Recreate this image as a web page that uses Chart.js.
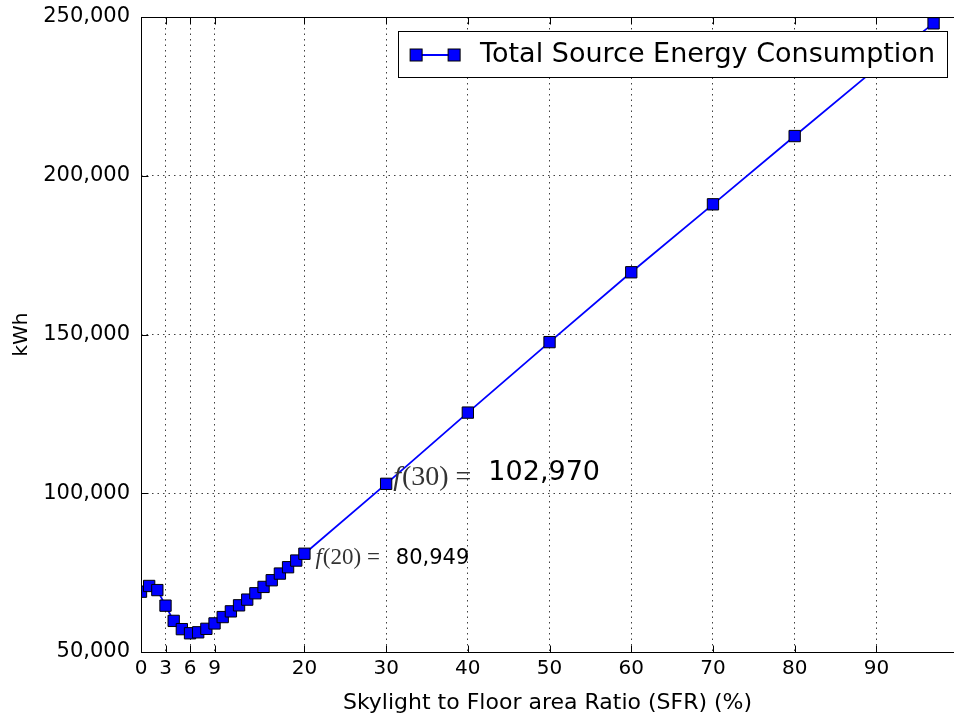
<!DOCTYPE html>
<html>
<head>
<meta charset="utf-8">
<title>Total Source Energy Consumption vs SFR</title>
<script src="https://cdn.jsdelivr.net/npm/chart.js@4.4.0/dist/chart.umd.min.js"></script>
<style>
  html, body { margin: 0; padding: 0; background: #fff; }
  #wrap { width: 954px; height: 719px; }
</style>
</head>
<body>
<div id="wrap"><canvas id="energyChart" width="954" height="719"></canvas></div>
<script>
// skylight to floor area ratio (%) and annual source energy (kWh)
var sfr = [0, 1, 2, 3, 4, 5, 6, 7, 8, 9, 10, 11, 12, 13, 14, 15, 16, 17, 18, 19, 20,
           30, 40, 50, 60, 70, 80, 90, 97];
var energy = [69000, 70800, 69500, 64600, 59800, 57200, 55900, 56200, 57300, 59000, 61000,
              62800, 64700, 66500, 68500, 70500, 72600, 74700, 76700, 78800, 80949,
              102970, 125400, 147600, 169600, 191000, 212500, 233900, 248000];
var xTickValues = [0, 3, 6, 9, 20, 30, 40, 50, 60, 70, 80, 90];
var yTickValues = [50000, 100000, 150000, 200000, 250000];
var seriesLabel = 'Total Source Energy Consumption';
var notedPoints = [20, 30]; // points that get an "f(x) = value" note

function withCommas(v) {
  return String(Math.round(v)).replace(/\B(?=(\d{3})+(?!\d))/g, ',');
}

var points = sfr.map(function (x, i) { return { x: x, y: energy[i] }; });

// keep the plot box exactly where the layout padding puts it
function noEdgePadding(s) {
  s.paddingLeft = 0; s.paddingRight = 0; s.paddingTop = 0; s.paddingBottom = 0;
}

//===========================================
//  frame: left/top/bottom spines + inward ticks
//  (the right spine falls just off the canvas)
//===========================================
var axesFrame = {
  id: 'axesFrame',
  afterDatasetsDraw: function (chart) {
    var a = chart.chartArea, c = chart.ctx;
    var xs = chart.scales.x, ys = chart.scales.y;
    var L = Math.round(a.left) + 0.5, T = Math.round(a.top) + 0.5, B = Math.round(a.bottom) + 0.5;
    c.save();
    c.strokeStyle = '#000';
    c.lineWidth = 1;
    c.setLineDash([]);
    c.beginPath();
    xTickValues.forEach(function (v) {
      var px = Math.round(xs.getPixelForValue(v)) + 0.5;
      c.moveTo(px, B); c.lineTo(px, B - 7);
      c.moveTo(px, T); c.lineTo(px, T + 7);
    });
    yTickValues.forEach(function (v) {
      var py = Math.round(ys.getPixelForValue(v)) + 0.5;
      c.moveTo(L, py); c.lineTo(L + 7, py);
    });
    c.moveTo(a.right + 10, T); c.lineTo(L, T); c.lineTo(L, B); c.lineTo(a.right + 10, B);
    c.stroke();
    c.restore();
  }
};

//===========================================
//  f(x) = value notes next to two points
//===========================================
var noteStyle = {
  20: { serif: 23, sans: 21, dx: 11, dySerif: 4, dySans: 5, gap: 16 },
  30: { serif: 28, sans: 27, dx: 7, dySerif: -6, dySans: -11, gap: 17 }
};
var notes = {
  id: 'notes',
  afterDatasetsDraw: function (chart) {
    var c = chart.ctx, xs = chart.scales.x, ys = chart.scales.y;
    notedPoints.forEach(function (x) {
      var y = energy[sfr.indexOf(x)];
      var st = noteStyle[x];
      var px = xs.getPixelForValue(x) + st.dx;
      var py = ys.getPixelForValue(y);
      c.save();
      c.textBaseline = 'middle';
      c.textAlign = 'left';
      c.fillStyle = '#333';
      c.font = 'italic ' + st.serif + 'px "Liberation Serif"';
      c.fillText('f', px, py + st.dySerif);
      px += c.measureText('f').width + 1;
      c.font = st.serif + 'px "Liberation Serif"';
      var s = '(' + x + ') =';
      c.fillText(s, px, py + st.dySerif);
      px += c.measureText(s).width + st.gap;
      c.fillStyle = '#000';
      c.font = st.sans + 'px "DejaVu Sans"';
      c.fillText(withCommas(y), px, py + st.dySans);
      c.restore();
    });
  }
};

//===========================================
//  legend box, upper right inside the axes
//===========================================
var legendBox = {
  id: 'legendBox',
  afterDraw: function (chart) {
    var c = chart.ctx, a = chart.chartArea, ds = chart.data.datasets[0];
    c.save();
    c.font = '27px "DejaVu Sans"';
    var tw = c.measureText(ds.label).width;
    var right = 947, top = a.top + 14, h = 46;
    var left = right - (82 + tw + 12);
    var midY = top + 24;
    c.fillStyle = '#fff';
    c.fillRect(left, top, right - left, h);
    c.strokeStyle = '#000';
    c.lineWidth = 1;
    c.strokeRect(Math.round(left) + 0.5, Math.round(top) + 0.5, Math.round(right - left), h);
    // sample line with a marker at each end
    c.strokeStyle = ds.borderColor;
    c.lineWidth = ds.borderWidth;
    c.beginPath();
    c.moveTo(left + 18, midY); c.lineTo(left + 56, midY);
    c.stroke();
    [18, 56].forEach(function (off) {
      c.fillStyle = ds.pointBackgroundColor;
      c.fillRect(left + off - 6, midY - 6, 12, 12);
      c.strokeStyle = ds.pointBorderColor;
      c.lineWidth = 1;
      c.strokeRect(left + off - 6, midY - 6, 12, 12);
    });
    c.fillStyle = '#000';
    c.textBaseline = 'middle';
    c.fillText(ds.label, left + 82, midY);
    c.restore();
  }
};

var ctx = document.getElementById('energyChart').getContext('2d');
var chart = new Chart(ctx, {
  type: 'line',
  data: {
    datasets: [{
      label: seriesLabel,
      data: points,
      borderColor: '#0000ff',
      backgroundColor: '#0000ff',
      borderWidth: 1.8,
      pointStyle: 'rect',
      pointRadius: 8,
      pointHoverRadius: 8,
      pointBackgroundColor: '#0000ff',
      pointBorderColor: '#000000',
      pointBorderWidth: 1,
      tension: 0,
      fill: false
    }]
  },
  options: {
    responsive: false,
    animation: false,
    events: [],
    layout: { autoPadding: false, padding: { left: 0, top: 17, right: 0, bottom: 0 } },
    plugins: {
      legend: { display: false },
      tooltip: { enabled: false }
    },
    scales: {
      x: {
        type: 'linear',
        min: 0,
        max: 99.5,
        afterBuildTicks: function (s) { s.ticks = xTickValues.map(function (v) { return { value: v }; }); },
        afterFit: function (s) { s.height = 67; noEdgePadding(s); },
        ticks: {
          color: '#000',
          font: { family: 'DejaVu Sans', size: 20 },
          padding: 5,
          autoSkip: false,
          maxRotation: 0,
          callback: function (v) { return String(v); }
        },
        grid: { color: 'rgba(0,0,0,0.75)', lineWidth: 1, drawTicks: false },
        border: { display: false, dash: [1.5, 4] },
        title: {
          display: true,
          text: 'Skylight to Floor area Ratio (SFR) (%)',
          color: '#000',
          font: { family: 'DejaVu Sans', size: 22 },
          padding: { top: 0, bottom: 3 }
        }
      },
      y: {
        min: 50000,
        max: 250000,
        afterBuildTicks: function (s) { s.ticks = yTickValues.map(function (v) { return { value: v }; }); },
        afterFit: function (s) { s.width = 141; noEdgePadding(s); },
        ticks: {
          color: '#000',
          font: { family: 'DejaVu Sans', size: 21 },
          padding: 11,
          callback: function (v) { return withCommas(v); }
        },
        grid: { color: 'rgba(0,0,0,0.75)', lineWidth: 1, drawTicks: false },
        border: { display: false, dash: [1.5, 4] },
        title: {
          display: true,
          text: 'kWh',
          color: '#000',
          font: { family: 'DejaVu Sans', size: 20 },
          padding: { top: 10, bottom: 0 }
        }
      }
    }
  },
  plugins: [axesFrame, notes, legendBox]
});
</script>
</body>
</html>
